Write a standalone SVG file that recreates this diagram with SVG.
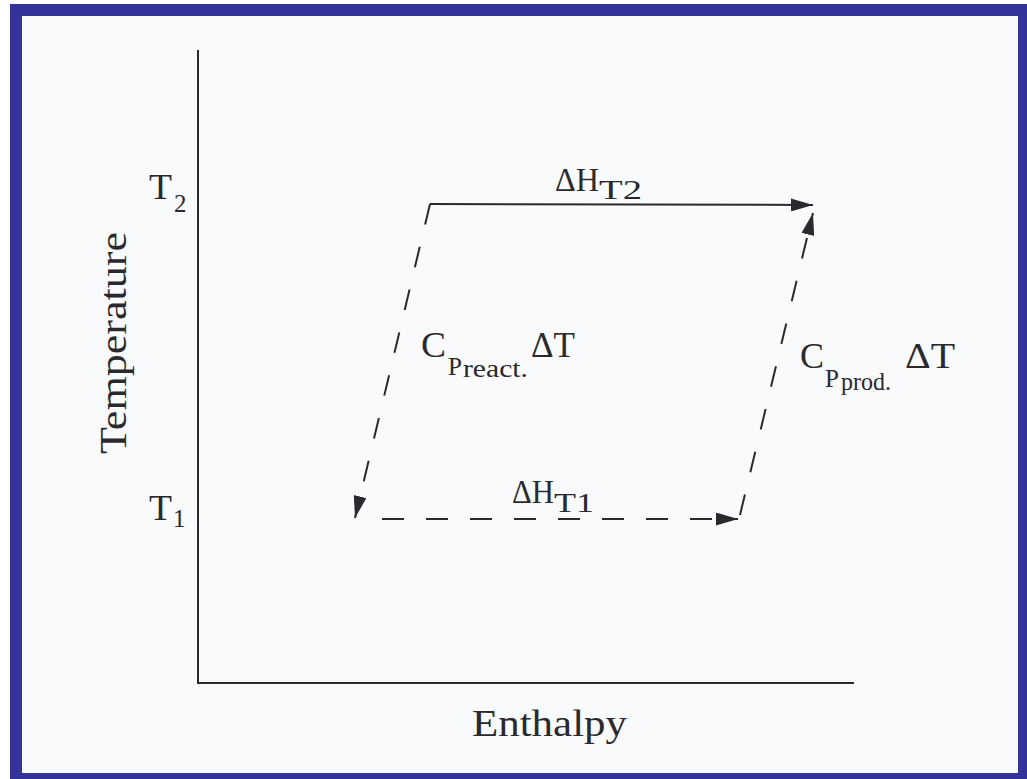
<svg xmlns="http://www.w3.org/2000/svg" width="1027" height="779" viewBox="0 0 1027 779">
<style>
.ln{stroke:#2a2a2e;stroke-width:2;fill:none;stroke-linecap:butt}
.dash{stroke-dasharray:21 23}
.t{font-family:"Liberation Serif","Times New Roman",serif;fill:#2a2a2e}
</style>
<defs>
<marker id="ah" viewBox="0 0 22 13" refX="22" refY="6.5" markerWidth="22" markerHeight="13" markerUnits="userSpaceOnUse" orient="auto">
<path d="M0,0 L22,6.5 L0,13 Z" fill="#2a2a2e"/>
</marker>
</defs>
<g id="frame">
<rect x="10" y="4" width="1017" height="775" fill="#333399"/>
<rect x="22" y="16" width="996" height="757" fill="#f9fafc"/>
</g>
<g id="axes">
<path class="ln" d="M198,50 L198,683 L854,683"/>
</g>
<g id="connectors">
<path class="ln" d="M430,204 L813,205" marker-end="url(#ah)"/>
<path class="ln dash" d="M430,204 L355,518" marker-end="url(#ah)"/>
<path class="ln" d="M382,519 L738,519" stroke-dasharray="22 22" marker-end="url(#ah)"/>
<path class="ln dash" d="M740,515 L813,213" marker-end="url(#ah)"/>
</g>
<g id="axis-labels">
<text class="t" font-size="38" transform="translate(126,343) rotate(-90)" text-anchor="middle" textLength="222" lengthAdjust="spacingAndGlyphs">Temperature</text>
<text class="t" font-size="38" x="472" y="736" textLength="155" lengthAdjust="spacingAndGlyphs">Enthalpy</text>
</g>
<g id="T2">
<text class="t" font-size="36" x="149" y="199" textLength="23" lengthAdjust="spacingAndGlyphs">T</text>
<text class="t" font-size="25" x="174" y="212">2</text>
</g>
<g id="T1">
<text class="t" font-size="36" x="149" y="520" textLength="23" lengthAdjust="spacingAndGlyphs">T</text>
<text class="t" font-size="25" x="173" y="527">1</text>
</g>
<g id="dHT2">
<text class="t" font-size="33" x="555" y="191" textLength="44" lengthAdjust="spacingAndGlyphs">ΔH</text>
<text class="t" font-size="28" x="599" y="199" textLength="43" lengthAdjust="spacingAndGlyphs">T2</text>
</g>
<g id="dHT1">
<text class="t" font-size="33" x="512" y="503" textLength="42" lengthAdjust="spacingAndGlyphs">ΔH</text>
<text class="t" font-size="28" x="554" y="512" textLength="40" lengthAdjust="spacingAndGlyphs">T1</text>
</g>
<g id="CpReact">
<text class="t" font-size="36" x="421" y="357" textLength="25" lengthAdjust="spacingAndGlyphs">C</text>
<text class="t" font-size="25" x="448" y="375">P</text>
<text class="t" font-size="25" x="463" y="377" textLength="65" lengthAdjust="spacingAndGlyphs">react.</text>
<text class="t" font-size="36" x="531" y="357" textLength="44" lengthAdjust="spacingAndGlyphs">ΔT</text>
</g>
<g id="CpProd">
<text class="t" font-size="36" x="800" y="368" textLength="24" lengthAdjust="spacingAndGlyphs">C</text>
<text class="t" font-size="25" x="825" y="387">P</text>
<text class="t" font-size="25" x="841" y="390" textLength="50" lengthAdjust="spacingAndGlyphs">prod.</text>
<text class="t" font-size="36" x="905" y="368" textLength="50" lengthAdjust="spacingAndGlyphs">ΔT</text>
</g>
</svg>
